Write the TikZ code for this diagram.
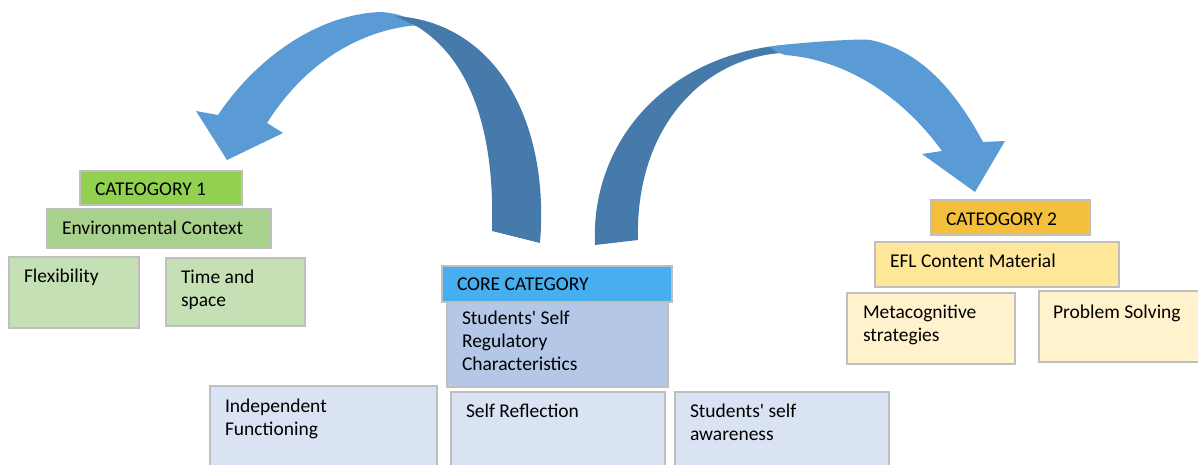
\documentclass[tikz,border=0pt]{standalone}
\usepackage{fontspec}
\setmainfont{Carlito}
\usetikzlibrary{calc}
\definecolor{boxline}{HTML}{BFBFBF}
\definecolor{gA}{HTML}{92D050}
\definecolor{gB}{HTML}{A9D18E}
\definecolor{gC}{HTML}{C5E0B4}
\definecolor{bA}{HTML}{47AFEF}
\definecolor{bB}{HTML}{B4C7E7}
\definecolor{bC}{HTML}{DAE3F3}
\definecolor{yA}{HTML}{F4BF3C}
\definecolor{yB}{HTML}{FFE699}
\definecolor{yC}{HTML}{FFF2CC}
\definecolor{arrLight}{HTML}{5B9BD5}
\definecolor{arrDark}{HTML}{467AAB}
\newcommand\mlines[1]{\begin{tabular}[t]{@{}l@{}}#1\end{tabular}}
\begin{document}
\begin{tikzpicture}[x=1pt,y=-1pt,
  box/.style={draw=boxline, line width=1.3pt, inner sep=0pt, outer sep=0pt, anchor=north west},
  txt/.style={anchor=base west, inner sep=0pt, outer sep=0pt, font=\fontsize{19.5}{23}\selectfont},
  light/.style={fill=arrLight, draw=none},
  dark/.style={fill=arrDark, draw=none}]
\clip (0,0) rectangle (1198,465);
\fill[white] (0,0) rectangle (1198,465);

% Category 1
\node[box, fill=gA, minimum width=162pt, minimum height=34pt] (c1) at (80,171) {};
\node[txt] (c1t) at ($(c1.north west)+(15,24)$) {CATEOGORY 1};
\node[box, fill=gB, minimum width=224pt, minimum height=39pt] (env) at (47,209) {};
\node[txt] (envt) at ($(env.north west)+(15,25)$) {Environmental Context};
\node[box, fill=gC, minimum width=130pt, minimum height=71pt] (flex) at (9,257) {};
\node[txt] (flext) at ($(flex.north west)+(15,25)$) {Flexibility};
\node[box, fill=gC, minimum width=139pt, minimum height=68pt] (time) at (166,258) {};
\node[txt] (timet) at ($(time.north west)+(15,25)$) {\mlines{Time and\\space}};

% Core category
\node[box, fill=bA, minimum width=230pt, minimum height=36pt] (core) at (442,266) {};
\node[txt] (coret) at ($(core.north west)+(15,24)$) {CORE CATEGORY};
\node[box, fill=bB, minimum width=221pt, minimum height=85pt] (ssr) at (447,302) {};
\node[txt] (ssrt) at ($(ssr.north west)+(15,22)$) {\mlines{Students\textquotesingle\ Self\\Regulatory\\Characteristics}};
\node[box, fill=bC, minimum width=227pt, minimum height=90pt] (ind) at (210,386) {};
\node[txt] (indt) at ($(ind.north west)+(15,26)$) {\mlines{Independent\\Functioning}};
\node[box, fill=bC, minimum width=214pt, minimum height=85pt] (sref) at (451,392) {};
\node[txt] (sreft) at ($(sref.north west)+(15,25)$) {Self Reflection};
\node[box, fill=bC, minimum width=214pt, minimum height=85pt] (saw) at (675,392) {};
\node[txt] (sawt) at ($(saw.north west)+(15,25)$) {\mlines{Students\textquotesingle\ self\\awareness}};

% Category 2
\node[box, fill=yA, minimum width=159pt, minimum height=35pt] (c2) at (931,200) {};
\node[txt] (c2t) at ($(c2.north west)+(15,25)$) {CATEOGORY 2};
\node[box, fill=yB, minimum width=244pt, minimum height=45pt] (efl) at (875,242) {};
\node[txt] (eflt) at ($(efl.north west)+(15,25)$) {EFL Content Material};
\node[box, fill=yC, minimum width=168pt, minimum height=71pt] (meta) at (847,293) {};
\node[txt] (metat) at ($(meta.north west)+(16,25)$) {\mlines{Metacognitive\\strategies}};
\node[box, fill=yC, minimum width=165pt, minimum height=71pt] (prob) at (1039,291) {};
\node[txt] (probt) at ($(prob.north west)+(14,27)$) {Problem Solving};

% Left curved arrow (core -> category 1)
\fill[light] (218,115) .. controls (255,60) and (315,15) .. (380,12)
  .. controls (398,13) and (410,18) .. (420,25)
  .. controls (370,28) and (310,55) .. (267,123)
  -- (283,133) -- (227,160) -- (196,111) -- cycle;
\fill[dark] (395,16) .. controls (495,22) and (550,120) .. (540,243)
  -- (492,231) .. controls (495,130) and (470,60) .. (418,27) -- cycle;

% Right curved arrow (core -> category 2)
\fill[dark] (595,245) .. controls (590,140) and (670,48) .. (800,44)
  .. controls (792,48) and (786,51) .. (780,53)
  .. controls (700,60) and (635,130) .. (638,240) -- cycle;
\fill[light] (770,47) .. controls (780,44) and (860,38) .. (870,40)
  .. controls (920,50) and (955,90) .. (983,142)
  -- (1005,141) -- (975,192) -- (922,154) -- (942,151)
  .. controls (905,100) and (850,60) .. (785,55)
  .. controls (778,53) and (773,50) .. cycle;
\end{tikzpicture}
\end{document}
